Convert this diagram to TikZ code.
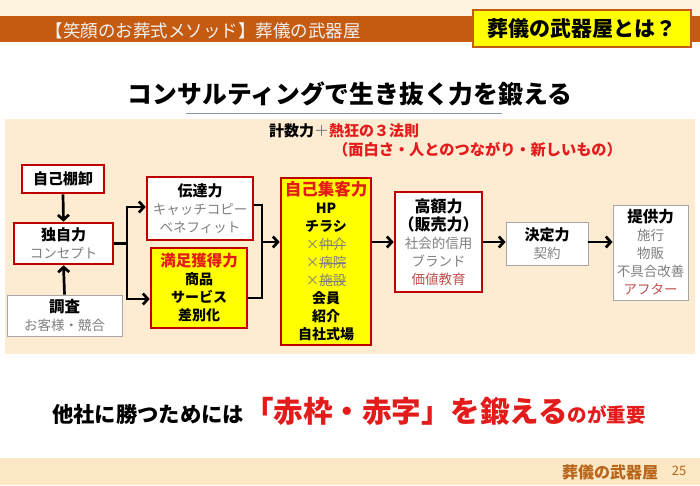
\documentclass[tikz,border=0pt]{standalone}
\usepackage{fontspec}
\setmainfont{Noto Sans CJK JP}
\usetikzlibrary{arrows.meta}
\definecolor{hdr}{HTML}{C55A11}
\definecolor{panel}{HTML}{FDEBD2}
\definecolor{topband}{HTML}{FEF3DF}
\definecolor{footband}{HTML}{FCE8C4}
\definecolor{rb}{HTML}{C00000}
\definecolor{rt}{HTML}{E31B1B}
\definecolor{gt}{HTML}{7F7F7F}
\definecolor{lr}{HTML}{C0504D}
\definecolor{ylw}{HTML}{FFFF00}
\definecolor{ulc}{HTML}{8497B0}
\definecolor{ftc}{HTML}{B8651B}
\newcommand\mystrk[1]{\setbox0\hbox{#1}\rlap{\rule[0.36em]{\wd0}{0.5pt}}\box0}
\newcommand\mybt{\fontsize{15}{18}\selectfont\bfseries}
\newcommand\mysg{\fontsize{13.5}{18}\selectfont\color{gt}}
\newcommand\mysb{\fontsize{14}{18}\selectfont\bfseries}
\begin{document}
\begin{tikzpicture}[x=1pt,y=-1pt,
  redbox/.style={draw=rb, line width=2.6pt, fill=white, inner sep=0pt, align=center, font=\fontsize{13.5}{18}\selectfont},
  ybox/.style={redbox, fill=ylw},
  graybox/.style={draw=black!35, line width=0.8pt, fill=white, inner sep=0pt, align=center, font=\fontsize{13.5}{18}\selectfont},
  arr/.style={line width=2.7pt, -{Straight Barb[length=5pt,width=11pt]}},
  ln/.style={line width=2.7pt}]
\useasboundingbox (0,0) rectangle (700,485);
% bands
\fill[white] (0,0) rectangle (700,485);
\fill[topband] (0,0) rectangle (700,16);
\fill[hdr] (0,16) rectangle (700,42);
\node[text=white!95!black, font=\fontsize{17.5}{20}\selectfont, inner sep=0pt] (htitle) at (203,31) {【笑顔のお葬式メソッド】葬儀の武器屋};
\node[draw=hdr, line width=2pt, fill=ylw, minimum width=218pt, minimum height=37pt, inner sep=0pt, font=\fontsize{21}{24}\selectfont\bfseries] (ybx) at (582,28.5) {葬儀の武器屋とは？};
% heading
\node[font=\fontsize{24.8}{28}\selectfont\bfseries, inner sep=0pt] (head) at (350,94) {コンサルティングで生き抜く力を鍛える};
\draw[ulc, line width=1.5pt] (186,113.5) -- (502,113.5);
% panel
\fill[panel] (5,119) rectangle (695,354);
\node[anchor=west, inner sep=0pt, font=\fontsize{15}{18}\selectfont\bfseries] (keisu) at (269,131) {計数力{\mdseries\color{gray}＋}\textcolor{rt}{熱狂の３法則}};
\node[anchor=west, inner sep=0pt, font=\fontsize{15.2}{18}\selectfont\bfseries, text=rt] (omo) at (333,150) {（面白さ・人とのつながり・新しいもの）};
% boxes
\node[redbox, minimum width=82pt, minimum height=28pt] (tana) at (63,179) {\mybt 自己棚卸};
\node[redbox, minimum width=99pt, minimum height=41pt] (dok) at (63.5,243.5) {\mybt 独自力\\ \mysg コンセプト};
\node[graybox, minimum width=115pt, minimum height=41pt] (chosa) at (64.5,315.5) {{\fontsize{15.5}{18}\selectfont\bfseries 調査}\\ \mysg お客様・競合};
\node[redbox, minimum width=106pt, minimum height=63pt] (dentatsu) at (200,208.5) {\mybt 伝達力\\ {\mysg キャッチコピー}\\ {\mysg ベネフィット}};
\node[ybox, minimum width=96pt, minimum height=80pt] (manzoku) at (199,288) {{\fontsize{15.5}{18}\selectfont\bfseries\color{rt}満足獲得力}\\ \mysb 商品\\ \mysb サービス\\ \mysb 差別化};
\node[ybox, minimum width=90pt, minimum height=167pt] (shukyaku) at (326,261.5) {{\fontsize{16.5}{18}\selectfont\bfseries\color{rt}自己集客力}\\ \mysb HP\\ \mysb チラシ\\ {\mysg ×\mystrk{仲介}}\\ {\mysg ×\mystrk{病院}}\\ {\mysg ×\mystrk{施設}}\\ \mysb 会員\\ \mysb 紹介\\ \mysb 自社式場};
\node[redbox, minimum width=87pt, minimum height=100pt] (kogaku) at (438.5,242) {{\fontsize{16}{18}\selectfont\bfseries 高額力}\\ {\fontsize{16}{20}\selectfont\bfseries （販売力）}\\ {\mysg 社会的信用}\\ {\mysg ブランド}\\ {\fontsize{13.5}{18}\selectfont\color{lr}価値教育}};
\node[graybox, minimum width=82pt, minimum height=43pt] (kettei) at (547,243.5) {\mybt 決定力\\ \mysg 契約};
\node[graybox, minimum width=75pt, minimum height=95pt] (teikyo) at (650.5,252.5) {{\fontsize{15.5}{18}\selectfont\bfseries 提供力}\\ {\mysg 施行}\\ {\mysg 物販}\\ {\mysg 不具合改善}\\ {\fontsize{13.5}{18}\selectfont\color{lr}アフター}};
% connectors
\coordinate (j1) at (127,243.5);
\coordinate (j2) at (262,242);
\draw[arr] (tana.south) -- (dok.north);
\draw[arr] (chosa.north) -- (dok.south);
\draw[ln] (dok.east) -- (j1);
\draw[arr] (j1) |- ([yshift=1.5pt]dentatsu.west);
\draw[arr] (j1) |- ([yshift=-11pt]manzoku.west);
\draw[ln] ([yshift=3.5pt]dentatsu.east) -| (j2);
\draw[ln] ([yshift=-10pt]manzoku.east) -| (j2);
\draw[arr] (j2) -- (j2 -| shukyaku.west);
\draw[arr] (shukyaku.east |- kogaku.west) -- (kogaku.west);
\draw[arr] (kogaku.east) -- (kogaku.east -| kettei.west);
\draw[arr] (kettei.east |- kogaku.east) -- (kogaku.east -| teikyo.west);
% bottom message
\node[inner sep=0pt, font=\bfseries] (msg) at (349,411) {{\fontsize{21.3}{24}\selectfont 他社に勝つためには}{\fontsize{29.5}{32}\selectfont\color{rt}「赤枠・赤字」を鍛える}{\fontsize{19.5}{22}\selectfont\color{rt}のが重要}};
% footer
\fill[footband] (0,458) rectangle (700,485);
\node[text=ftc, inner sep=0pt, font=\fontsize{16}{18}\selectfont\bfseries] (fname) at (610,472.5) {葬儀の武器屋};
\node[text=ftc, inner sep=0pt, font=\fontsize{13}{15}\selectfont] (fnum) at (679,471) {25};
\end{tikzpicture}
\end{document}
